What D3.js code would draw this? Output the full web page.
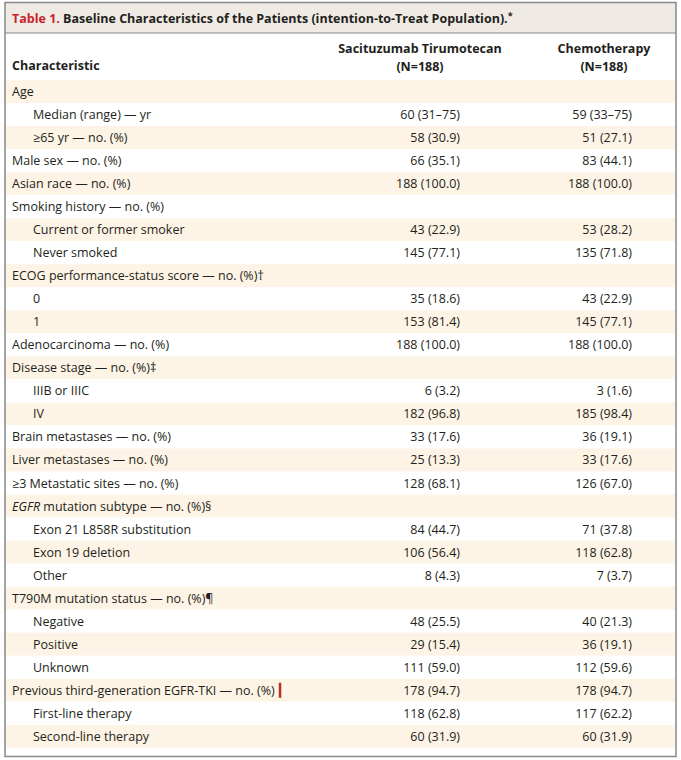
<!doctype html>
<html lang="en">
  <head>
    <meta charset="utf-8">
    <title>Table 1</title>
    <script src="https://cdnjs.cloudflare.com/ajax/libs/d3/7.8.5/d3.min.js"></script>
    <style>
      * { margin: 0; padding: 0; }
      body { background: #fff; }
      svg text { font-family: "Liberation Sans Narrow", "Open Sans", sans-serif; font-size: 12.5px; fill: #231f20; }
    </style>
  </head>
  <body>
    <svg id="chart" width="681" height="760"></svg>
    <script>
      // row labels, indent level, and the two column values
      var labels = ["Age", "Median (range) \u2014 yr", "\u226565 yr \u2014 no. (%)", "Male sex \u2014 no. (%)",
        "Asian race \u2014 no. (%)", "Smoking history \u2014 no. (%)", "Current or former smoker", "Never smoked",
        "ECOG performance-status score \u2014 no. (%)\u2020", "0", "1", "Adenocarcinoma \u2014 no. (%)",
        "Disease stage \u2014 no. (%)\u2021", "IIIB or IIIC", "IV", "Brain metastases \u2014 no. (%)",
        "Liver metastases \u2014 no. (%)", "\u22653 Metastatic sites \u2014 no. (%)",
        "EGFR mutation subtype \u2014 no. (%)\u00a7", "Exon 21 L858R substitution", "Exon 19 deletion", "Other",
        "T790M mutation status \u2014 no. (%)\u00b6", "Negative", "Positive", "Unknown",
        "Previous third-generation EGFR-TKI \u2014 no. (%)", "First-line therapy", "Second-line therapy"];
      var indent = [0,1,1,0,0,0,1,1,0,1,1,0,0,1,1,0,0,0,0,1,1,1,0,1,1,1,0,1,1];
      var sacituzumab = ["", "60 (31\u201375)", "58 (30.9)", "66 (35.1)", "188 (100.0)", "", "43 (22.9)", "145 (77.1)",
        "", "35 (18.6)", "153 (81.4)", "188 (100.0)", "", "6 (3.2)", "182 (96.8)", "33 (17.6)", "25 (13.3)",
        "128 (68.1)", "", "84 (44.7)", "106 (56.4)", "8 (4.3)", "", "48 (25.5)", "29 (15.4)", "111 (59.0)",
        "178 (94.7)", "118 (62.8)", "60 (31.9)"];
      var chemotherapy = ["", "59 (33\u201375)", "51 (27.1)", "83 (44.1)", "188 (100.0)", "", "53 (28.2)", "135 (71.8)",
        "", "43 (22.9)", "145 (77.1)", "188 (100.0)", "", "3 (1.6)", "185 (98.4)", "36 (19.1)", "33 (17.6)",
        "126 (67.0)", "", "71 (37.8)", "118 (62.8)", "7 (3.7)", "", "40 (21.3)", "36 (19.1)", "112 (59.6)",
        "178 (94.7)", "117 (62.2)", "60 (31.9)"];

      var svg = d3.select("#chart");
      var rowsTop = 80, rowH = 23.03;
      var y = d3.scaleBand().domain(d3.range(labels.length))
        .range([rowsTop, rowsTop + rowH * labels.length]);

      // title band
      svg.append("rect").attr("x", 5).attr("y", 3).attr("width", 671).attr("height", 30).attr("fill", "#efebe4");
      var t = svg.append("text").attr("x", 12).attr("y", 23).style("font-weight", "bold");
      t.append("tspan").style("fill", "#c8232c").text("Table 1. ");
      t.append("tspan").text("Baseline Characteristics of the Patients (intention-to-Treat Population).");
      t.append("tspan").attr("dy", -4).style("font-size", "9px").text("*");

      // header
      var h = svg.append("g").style("font-weight", "bold");
      h.append("text").attr("x", 12).attr("y", 70).text("Characteristic");
      h.append("text").attr("x", 420).attr("y", 53).attr("text-anchor", "middle").text("Sacituzumab Tirumotecan");
      h.append("text").attr("x", 420).attr("y", 71).attr("text-anchor", "middle").text("(N=188)");
      h.append("text").attr("x", 604).attr("y", 53).attr("text-anchor", "middle").text("Chemotherapy");
      h.append("text").attr("x", 604).attr("y", 71).attr("text-anchor", "middle").text("(N=188)");

      var rows = svg.selectAll("g.row").data(labels).join("g").attr("class", "row")
        .attr("transform", function(d, i) { return "translate(0," + y(i) + ")"; });
      rows.append("rect").attr("x", 5).attr("width", 671).attr("height", y.bandwidth())
        .attr("fill", function(d, i) { return i % 2 === 0 ? "#fdf4e6" : "#fff"; });
      var labelText = rows.append("text").attr("x", function(d, i) { return indent[i] ? 33 : 12; }).attr("y", 16)
        .each(function(d) {
          var el = d3.select(this);
          if (d.indexOf("EGFR mutation") === 0) {
            el.append("tspan").style("font-style", "italic").text("EGFR");
            el.append("tspan").text(d.slice(4));
          } else {
            el.text(d);
          }
        });
      rows.append("text").attr("x", 460).attr("y", 16).attr("text-anchor", "end")
        .text(function(d, i) { return sacituzumab[i]; });
      rows.append("text").attr("x", 632).attr("y", 16).attr("text-anchor", "end")
        .text(function(d, i) { return chemotherapy[i]; });

      // footnote marker bar after the EGFR-TKI label
      var tki = labels.length - 3;
      var tkiNode = labelText.nodes()[tki];
      var barX = 12 + tkiNode.getComputedTextLength() + 4;
      svg.append("rect").attr("x", barX).attr("y", y(tki) + 4).attr("width", 2.5).attr("height", 15).attr("fill", "#b5321f");

      // outer frame
      svg.append("rect").attr("x", 5).attr("y", 2.5).attr("width", 671).attr("height", 754)
        .attr("fill", "none").attr("stroke", "#888").attr("stroke-width", 1.5);
      svg.append("line").attr("x1", 5).attr("x2", 676).attr("y1", 33).attr("y2", 33)
        .attr("stroke", "#888").attr("stroke-width", 1);
    </script>
  </body>
</html>
